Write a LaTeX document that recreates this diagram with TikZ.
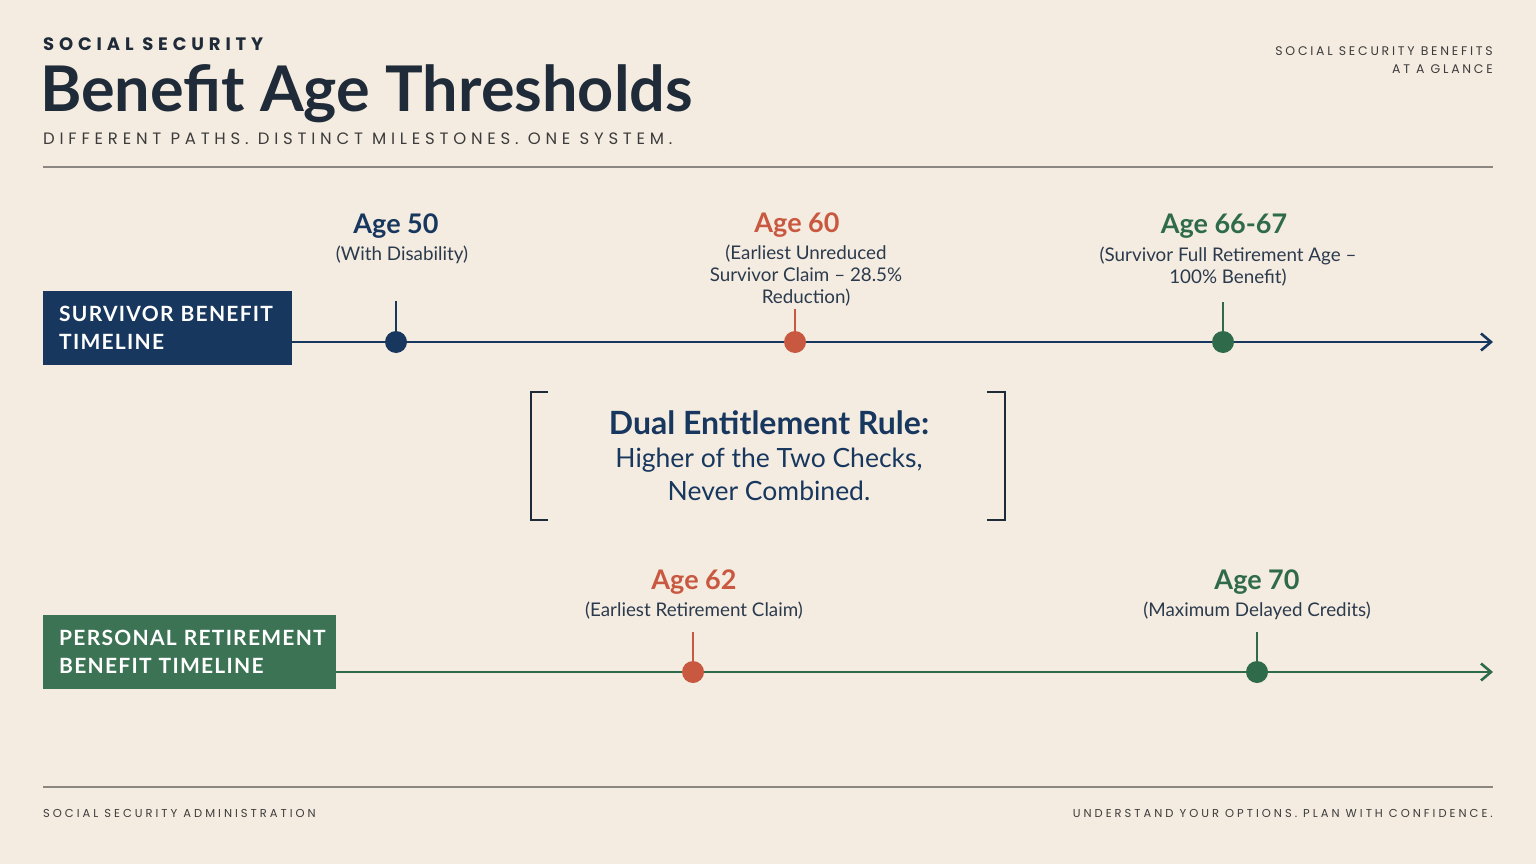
\documentclass[tikz,border=0pt]{standalone}
\usepackage{fontspec}
\setmainfont{Lato}
\newfontfamily\kickerfont[LetterSpace=27]{Poppins}
\newfontfamily\taglinefont[LetterSpace=29]{Poppins}
\newfontfamily\cornerfont[LetterSpace=22]{Poppins}
\newfontfamily\footfont[LetterSpace=26]{Poppins}
\newfontfamily\boxfont[LetterSpace=6]{Lato}
\usetikzlibrary{arrows.meta, math}

\definecolor{cream}{HTML}{F5ECE1}
\definecolor{navy}{HTML}{17375E}
\definecolor{rust}{HTML}{C95840}
\definecolor{pine}{HTML}{2F6B4B}
\definecolor{pinebox}{HTML}{3B7354}
\definecolor{ink}{HTML}{1F2B38}
\definecolor{subink}{HTML}{2B3A4D}
\definecolor{slate}{HTML}{3C3C3C}
\definecolor{rulegray}{HTML}{8C8680}

\begin{document}
\begin{tikzpicture}[x=1pt, y=-1pt,
  >={Straight Barb[length=10pt,width=17pt,line width=2.6pt]},
  tagbox/.style={inner xsep=16pt, inner ysep=0pt, minimum height=74pt, anchor=north west,
                 text=white, align=left, font=\boxfont\bfseries\fontsize{21}{28}\selectfont},
  milestone/.style={circle, inner sep=0pt, minimum size=22pt, fill=#1},
  agelabel/.style={font=\bfseries\fontsize{27}{30}\selectfont, text=#1},
  sublabel/.style={font=\fontsize{18.8}{22.3}\selectfont, text=subink, align=center, anchor=north},
  timeline/.style={line width=2.5pt, draw=#1}]

\tikzmath{
  \ysurv = 342; \yown = 672; \xend = 1493;
}

% page
\fill[cream] (0,0) rectangle (1536,864);
\useasboundingbox (0,0) rectangle (1536,864);

% header
\node[anchor=base west, inner sep=0pt, text=ink, font=\kickerfont\bfseries\fontsize{18}{20}\selectfont] (kicker) at (43,51) {SOCIAL SECURITY};
\node[anchor=base west, inner sep=0pt, text=ink, font=\bfseries\fontsize{63}{66}\selectfont] (title) at (40,112) {Benefit Age Thresholds};
\node[anchor=base west, inner sep=0pt, text=slate, font=\taglinefont\fontsize{16.5}{18}\selectfont] (tagline) at (43,145) {DIFFERENT PATHS. DISTINCT MILESTONES. ONE SYSTEM.};
\node[anchor=base east, inner sep=0pt, text=slate, font=\cornerfont\fontsize{12.5}{18}\selectfont, align=right] (corner) at (1493,74) {SOCIAL SECURITY BENEFITS\\AT A GLANCE};
\draw[rulegray, line width=1.2pt] (43,167) -- (1493,167);

% survivor timeline
\node[tagbox, fill=navy, minimum width=249pt, text width=217pt] (surv) at (43,291) {\mbox{SURVIVOR BENEFIT}\\TIMELINE};
\coordinate (survend) at (\xend,\ysurv);
\draw[timeline=navy, ->] (surv.east |- survend) -- (survend);

\node[milestone=navy] (d50) at (396,\ysurv) {};
\node[milestone=rust] (d60) at (795,\ysurv) {};
\node[milestone=pine] (d66) at (1223,\ysurv) {};
\coordinate (t50) at (396,301);
\coordinate (t60) at (795,309);
\coordinate (t66) at (1223,302);
\draw[navy, line width=2pt] (t50) -- (d50.center);
\draw[rust, line width=2pt] (t60) -- (d60.center);
\draw[pine, line width=2pt] (t66) -- (d66.center);

\node[agelabel=navy] (a50) at (396,226) {Age 50};
\node[sublabel] (s50) at (402,242) {(With Disability)};
\node[agelabel=rust] (a60) at (797,225) {Age 60};
\node[sublabel] (s60) at (806,241) {(Earliest Unreduced\\Survivor Claim -- 28.5\%\\Reduction)};
\node[agelabel=pine] (a66) at (1224,226) {Age 66-67};
\node[sublabel] (s66) at (1228,243) {(Survivor Full Retirement Age --\\100\% Benefit)};

% dual entitlement rule
\draw[ink, line width=2pt] (548,392) -- (531,392) -- (531,520) -- (548,520);
\draw[ink, line width=2pt] (987,392) -- (1005,392) -- (1005,520) -- (987,520);
\node[text=navy, font=\bfseries\fontsize{32}{34}\selectfont] (rule) at (769,423) {Dual Entitlement Rule:};
\node[text=navy, font=\fontsize{26.5}{33}\selectfont, align=center, anchor=north] (rulebody) at (769,444) {Higher of the Two Checks,\\Never Combined.};

% personal timeline
\node[tagbox, fill=pinebox, minimum width=293pt, text width=261pt] (own) at (43,615) {\mbox{PERSONAL RETIREMENT}\\\mbox{BENEFIT TIMELINE}};
\coordinate (ownend) at (\xend,\yown);
\draw[timeline=pine, ->] (own.east |- ownend) -- (ownend);

\node[milestone=rust] (d62) at (693,\yown) {};
\node[milestone=pine] (d70) at (1257,\yown) {};
\coordinate (t62) at (693,632);
\coordinate (t70) at (1257,632);
\draw[rust, line width=2pt] (t62) -- (d62.center);
\draw[pine, line width=2pt] (t70) -- (d70.center);

\node[agelabel=rust] (a62) at (694,582) {Age 62};
\node[sublabel] (s62) at (694,598) {(Earliest Retirement Claim)};
\node[agelabel=pine] (a70) at (1257,582) {Age 70};
\node[sublabel] (s70) at (1257,598) {(Maximum Delayed Credits)};

% footer
\draw[rulegray, line width=1.2pt] (43,787) -- (1493,787);
\node[anchor=base west, inner sep=0pt, text=slate, font=\footfont\fontsize{11.5}{14}\selectfont] (org) at (43,817) {SOCIAL SECURITY ADMINISTRATION};
\node[anchor=base east, inner sep=0pt, text=slate, font=\footfont\fontsize{11.5}{14}\selectfont] (motto) at (1493,817) {UNDERSTAND YOUR OPTIONS. PLAN WITH CONFIDENCE.};

\end{tikzpicture}
\end{document}
